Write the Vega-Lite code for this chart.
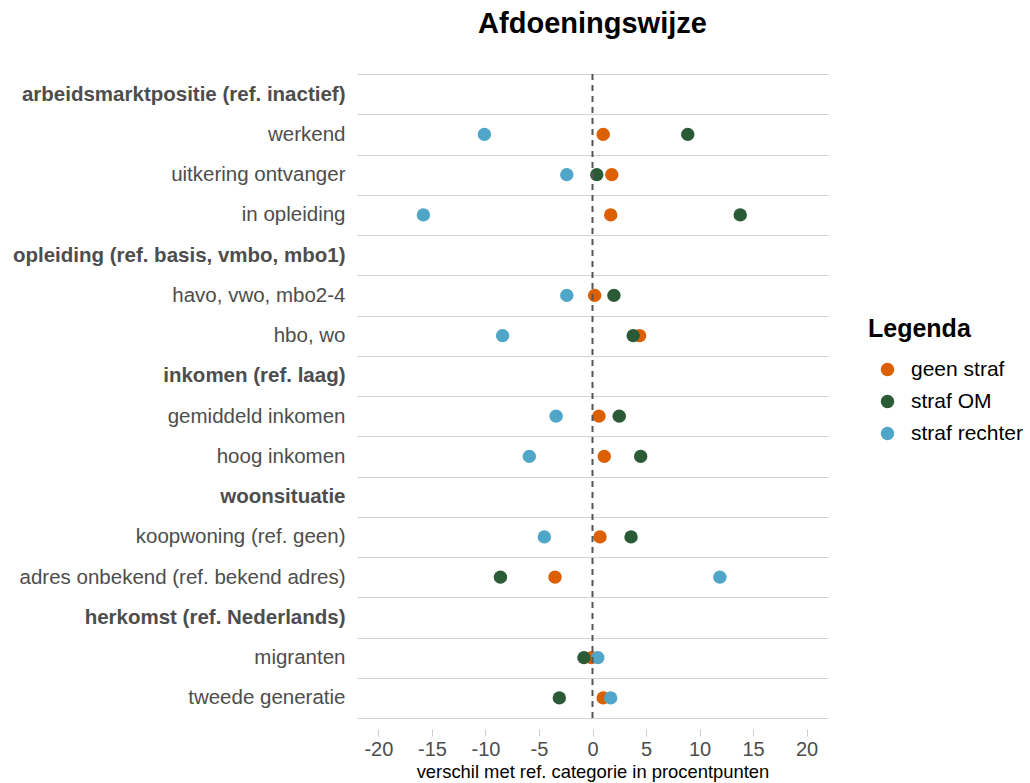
{
  "$schema": "https://vega.github.io/schema/vega-lite/v6.json",
  "width": 471,
  "height": 644,
  "autosize": {"type": "none"},
  "padding": {"left": 357, "top": 74, "right": 202, "bottom": 65},
  "background": "white",
  "config": {
    "font": "Liberation Sans",
    "view": {"stroke": null}
  },
  "title": {
    "text": "Afdoeningswijze",
    "anchor": "middle",
    "fontSize": 29,
    "fontWeight": "bold",
    "color": "black",
    "baseline": "alphabetic",
    "offset": 2
  },
  "data": {
    "values": [
      {"cat": "werkend", "type": "geen straf", "value": 1.0},
      {"cat": "werkend", "type": "straf OM", "value": 8.9},
      {"cat": "werkend", "type": "straf rechter", "value": -10.1},
      {"cat": "uitkering ontvanger", "type": "geen straf", "value": 1.8},
      {"cat": "uitkering ontvanger", "type": "straf OM", "value": 0.4},
      {"cat": "uitkering ontvanger", "type": "straf rechter", "value": -2.4},
      {"cat": "in opleiding", "type": "geen straf", "value": 1.7},
      {"cat": "in opleiding", "type": "straf OM", "value": 13.8},
      {"cat": "in opleiding", "type": "straf rechter", "value": -15.8},
      {"cat": "havo, vwo, mbo2-4", "type": "geen straf", "value": 0.2},
      {"cat": "havo, vwo, mbo2-4", "type": "straf OM", "value": 2.0},
      {"cat": "havo, vwo, mbo2-4", "type": "straf rechter", "value": -2.4},
      {"cat": "hbo, wo", "type": "geen straf", "value": 4.4},
      {"cat": "hbo, wo", "type": "straf OM", "value": 3.8},
      {"cat": "hbo, wo", "type": "straf rechter", "value": -8.4},
      {"cat": "gemiddeld inkomen", "type": "geen straf", "value": 0.6},
      {"cat": "gemiddeld inkomen", "type": "straf OM", "value": 2.5},
      {"cat": "gemiddeld inkomen", "type": "straf rechter", "value": -3.4},
      {"cat": "hoog inkomen", "type": "geen straf", "value": 1.1},
      {"cat": "hoog inkomen", "type": "straf OM", "value": 4.5},
      {"cat": "hoog inkomen", "type": "straf rechter", "value": -5.9},
      {"cat": "koopwoning (ref. geen)", "type": "geen straf", "value": 0.7},
      {"cat": "koopwoning (ref. geen)", "type": "straf OM", "value": 3.6},
      {"cat": "koopwoning (ref. geen)", "type": "straf rechter", "value": -4.5},
      {"cat": "adres onbekend (ref. bekend adres)", "type": "geen straf", "value": -3.5},
      {"cat": "adres onbekend (ref. bekend adres)", "type": "straf OM", "value": -8.6},
      {"cat": "adres onbekend (ref. bekend adres)", "type": "straf rechter", "value": 11.9},
      {"cat": "migranten", "type": "geen straf", "value": -0.1},
      {"cat": "migranten", "type": "straf OM", "value": -0.8},
      {"cat": "migranten", "type": "straf rechter", "value": 0.5},
      {"cat": "tweede generatie", "type": "geen straf", "value": 1.0},
      {"cat": "tweede generatie", "type": "straf OM", "value": -3.1},
      {"cat": "tweede generatie", "type": "straf rechter", "value": 1.7}
    ]
  },
  "layer": [
    {
      "mark": {"type": "point", "filled": true, "shape": "circle", "size": 180, "opacity": 1},
      "encoding": {
        "x": {
          "field": "value",
          "type": "quantitative",
          "scale": {"domain": [-22, 22], "nice": false, "zero": false},
          "axis": {
            "values": [-20, -15, -10, -5, 0, 5, 10, 15, 20],
            "labelExpr": "'' + datum.value",
            "title": "verschil met ref. categorie in procentpunten",
            "titleFontSize": 18.4,
            "titleFontWeight": "normal",
            "titleColor": "black",
            "titlePadding": 3,
            "labelFontSize": 20,
            "labelColor": "#4D4D4D",
            "labelPadding": 3,
            "grid": false,
            "domain": false,
            "ticks": true,
            "tickColor": "#CCCCCC",
            "tickSize": 7,
            "offset": 11
          }
        },
        "y": {
          "field": "cat",
          "type": "nominal",
          "scale": {
            "type": "band",
            "paddingInner": 0,
            "paddingOuter": 0,
            "domain": [
              "arbeidsmarktpositie (ref. inactief)",
              "werkend",
              "uitkering ontvanger",
              "in opleiding",
              "opleiding (ref. basis, vmbo, mbo1)",
              "havo, vwo, mbo2-4",
              "hbo, wo",
              "inkomen (ref. laag)",
              "gemiddeld inkomen",
              "hoog inkomen",
              "woonsituatie",
              "koopwoning (ref. geen)",
              "adres onbekend (ref. bekend adres)",
              "herkomst (ref. Nederlands)",
              "migranten",
              "tweede generatie"
            ]
          },
          "axis": {
            "title": null,
            "tickBand": "extent",
            "grid": true,
            "gridColor": "#D3D3D3",
            "gridWidth": 1.2,
            "ticks": false,
            "domain": false,
            "labelFontSize": 20.5,
            "labelColor": "#4D4D4D",
            "labelPadding": 12,
            "labelLimit": 400,
            "labelFontWeight": {
              "condition": {
                "test": "indexof(['arbeidsmarktpositie (ref. inactief)','opleiding (ref. basis, vmbo, mbo1)','inkomen (ref. laag)','woonsituatie','herkomst (ref. Nederlands)'], datum.value) >= 0",
                "value": "bold"
              },
              "value": "normal"
            }
          }
        },
        "color": {
          "field": "type",
          "type": "nominal",
          "scale": {
            "domain": ["geen straf", "straf OM", "straf rechter"],
            "range": ["#DC6002", "#2B5A37", "#4FA6C8"]
          },
          "legend": {
            "title": "Legenda",
            "orient": "none",
            "legendX": 511,
            "legendY": 243,
            "titleFontSize": 25,
            "titleFontWeight": "bold",
            "titleColor": "black",
            "titlePadding": 17,
            "labelFontSize": 21,
            "labelColor": "black",
            "labelOffset": 13,
            "symbolSize": 180,
            "symbolType": "circle",
            "symbolOffset": 9,
            "rowPadding": 10
          }
        },
        "order": {"field": "type", "sort": "ascending"}
      }
    },
    {
      "data": {"values": [{"x": 0}]},
      "mark": {"type": "rule", "color": "#555555", "strokeWidth": 2, "strokeDash": [6, 5]},
      "encoding": {"x": {"field": "x", "type": "quantitative"}}
    }
  ]
}
